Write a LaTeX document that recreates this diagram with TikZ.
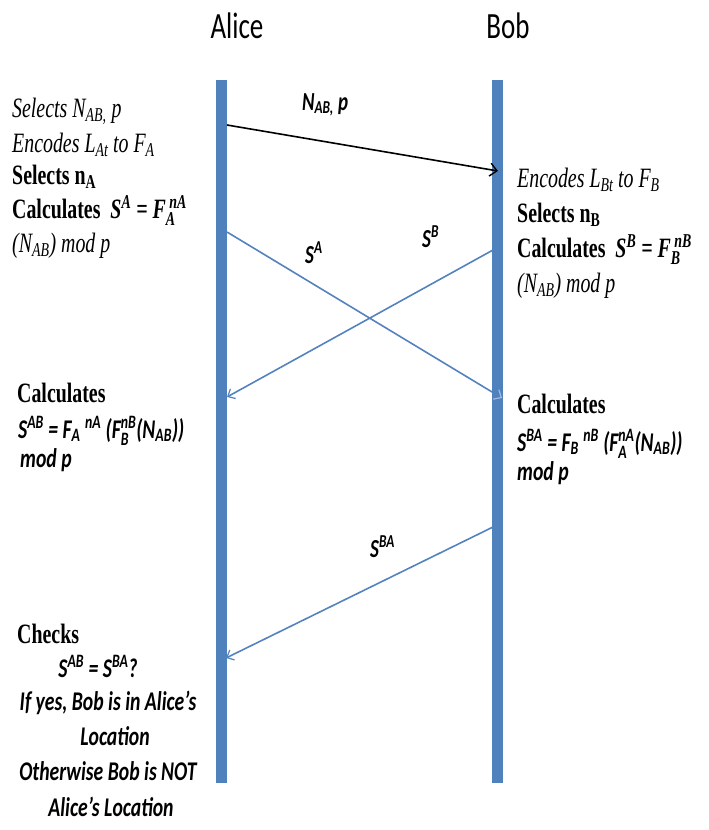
\documentclass[tikz,border=0pt]{standalone}
\usepackage{amsmath}
\usepackage{fontspec}
\setmainfont{Liberation Serif}[FakeStretch=0.71]
\newfontfamily\calfont{Carlito}[FakeStretch=0.73]
\usetikzlibrary{arrows.meta}
\definecolor{lifeblue}{RGB}{79,129,189}
\definecolor{msgblue}{RGB}{84,130,190}
\definecolor{tipblue}{RGB}{160,188,225}
\begin{document}
\begin{tikzpicture}[x=1pt,y=-1pt]
\tikzset{
  tline/.style={font=\fontsize{28}{30}\selectfont, anchor=base west, inner sep=0pt},
  cline/.style={font=\calfont\bfseries\itshape\fontsize{27}{28}\selectfont, anchor=base west, inner sep=0pt},
  ccline/.style={cline, anchor=base},
  title/.style={font=\calfont\fontsize{37}{38}\selectfont, anchor=base, inner sep=0pt},
  lifeline/.style={line width=11pt, lifeblue},
  blackmsg/.style={line width=1.6pt, black, -{Straight Barb[length=7pt,width=13pt,line width=1.4pt]}},
  bluemsg/.style={line width=1.6pt, msgblue, -{Straight Barb[length=6pt,width=11pt,line width=1.2pt]}},
  bluemsgbar/.style={line width=1.6pt, msgblue, -{Straight Barb[length=6pt,width=11pt,line width=1.2pt,color=tipblue]}},
  msglabel/.style={font=\calfont\bfseries\itshape\fontsize{26}{27}\selectfont, anchor=base west, inner sep=0pt}
}
\useasboundingbox (0,0) rectangle (709,830);
% titles
\node[title] (alice) at (237,38) {Alice};
\node[title] (bob) at (508,38) {Bob};
% lifelines
\coordinate (aTop) at (221,80);
\coordinate (aBot) at (221,783);
\coordinate (bTop) at (497.5,80);
\coordinate (bBot) at (497.5,783);
\draw[lifeline] (aTop) -- (aBot);
\draw[lifeline] (bTop) -- (bBot);
% message endpoints
\coordinate (m1s) at (227,125);
\coordinate (m1e) at (498,171);
\coordinate (m2s) at (227,232);
\coordinate (m2e) at (502,398);
\coordinate (m3s) at (493,250);
\coordinate (m3e) at (227,397);
\coordinate (m4s) at (493,527);
\coordinate (m4e) at (226,658);
\draw[blackmsg] (m1s) -- (m1e);
\draw[bluemsgbar] (m2s) -- (m2e);
\draw[bluemsg] (m3s) -- (m3e);
\draw[bluemsg] (m4s) -- (m4e);
% message labels
\node[msglabel] (lab1) at (302,110) {N$_{\text{AB,}}$ p};
\node[msglabel] (lab2) at (305,263) {S$^{\text{A}}$};
\node[msglabel] (lab3) at (422,247) {S$^{\text{B}}$};
\node[msglabel] (lab4) at (370,557) {S$^{\text{BA}}$};
% Alice top text
\node[tline] (l1) at (12,117) {\textit{Selects N$_{\text{AB,}}$ p}};
\node[tline] (l2) at (12,152) {\textit{Encodes L$_{\text{At}}$\,to F$_{\text{A}}$}};
\node[tline] (l3) at (12,184) {\textbf{Selects n$_{\text{A}}$}};
\node[tline] (l4) at (12,218) {\textbf{Calculates \ \textit{S$^{\text{A}}$ = F$_{\text{A}}^{\,\text{nA}}$}}};
\node[tline] (l5) at (12,252) {\textit{(N$_{\text{AB}}$) mod p}};
% Bob top text
\node[tline] (r1) at (517,187) {\textit{Encodes L$_{\text{Bt}}$\,to F$_{\text{B}}$}};
\node[tline] (r2) at (517,222) {\textbf{Selects n$_{\text{B}}$}};
\node[tline] (r3) at (517,257) {\textbf{Calculates \ \textit{S$^{\text{B}}$ = F$_{\text{B}}^{\,\text{nB}}$}}};
\node[tline] (r4) at (517,292) {\textit{(N$_{\text{AB}}$) mod p}};
% Alice middle text
\node[tline] (am1) at (17,402) {\textbf{Calculates}};
\node[cline] (am2) at (18,438) {S$^{\text{AB}}$ = F$_{\text{A}}$ $^{\text{nA}}$ (F$_{\text{B}}^{\text{nB}}$(N$_{\text{AB}}$))};
\node[cline] (am3) at (20,467) {mod p};
% Bob middle text
\node[tline] (bm1) at (517,413) {\textbf{Calculates}};
\node[cline] (bm2) at (517,451) {S$^{\text{BA}}$ = F$_{\text{B}}$ $^{\text{nB}}$ (F$_{\text{A}}^{\text{nA}}$(N$_{\text{AB}}$))};
\node[cline] (bm3) at (517,480) {mod p};
% Alice bottom text
\node[tline] (c1) at (17,643) {\textbf{Checks}};
\node[ccline] (c2) at (98,677) {S$^{\text{AB}}$ = S$^{\text{BA}}$?};
\node[ccline] (c3) at (108,710) {If yes, Bob is in Alice’s};
\node[ccline] (c4) at (115,745) {Location};
\node[ccline] (c5) at (108,780) {Otherwise Bob is NOT};
\node[ccline] (c6) at (111,816) {Alice’s Location};
\end{tikzpicture}
\end{document}
